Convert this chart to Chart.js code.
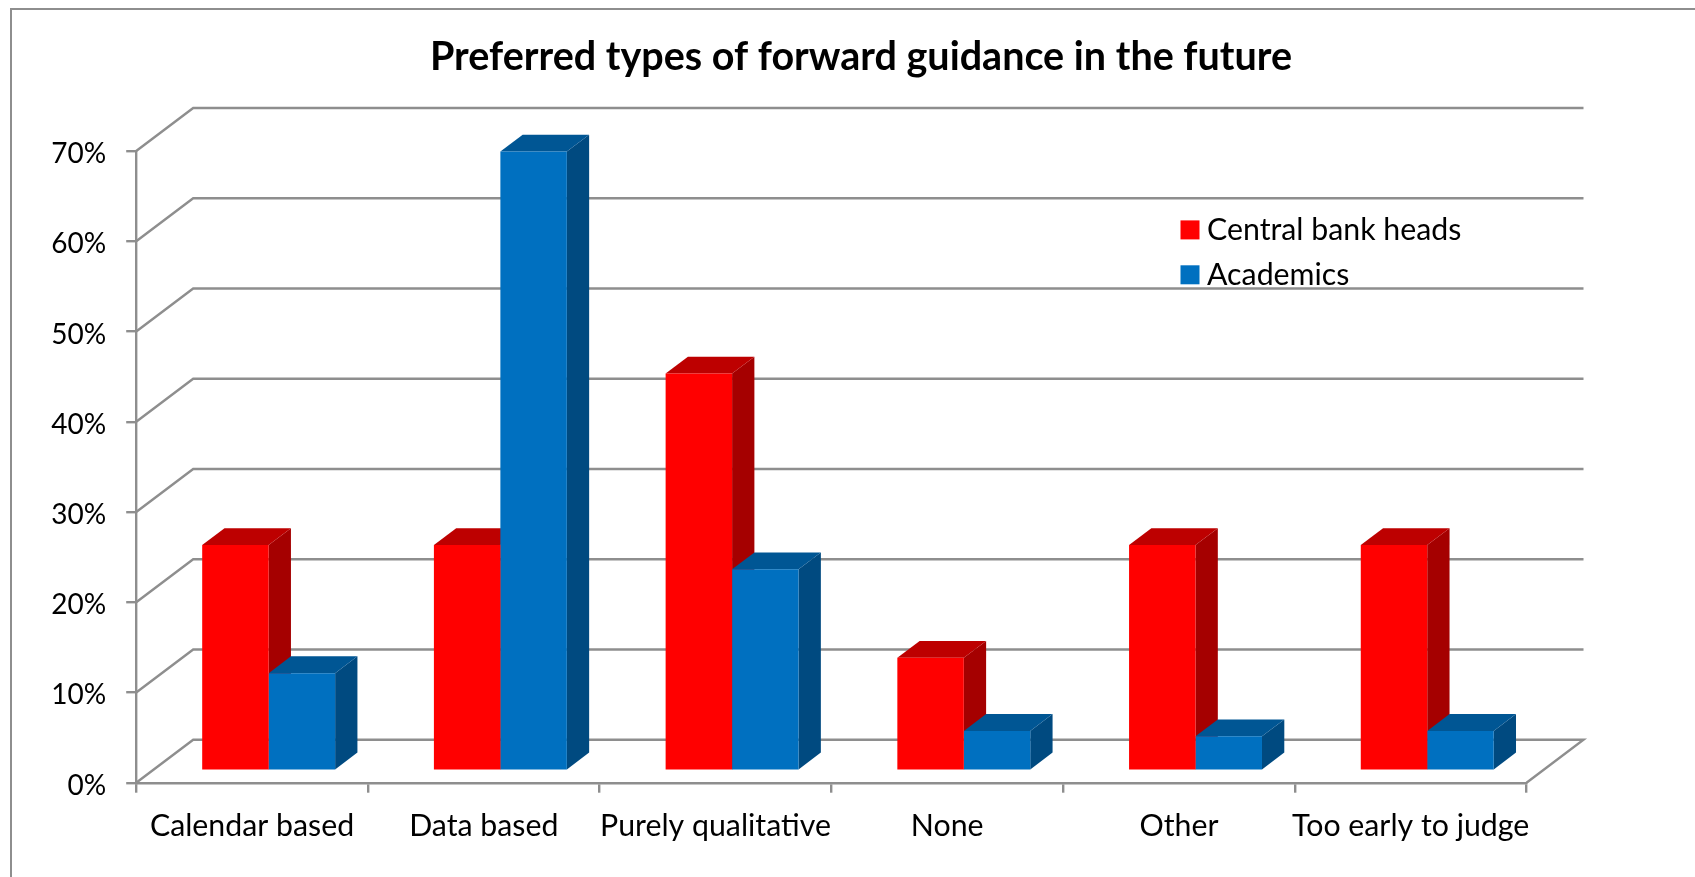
<!DOCTYPE html>
<html>
<head>
<meta charset="utf-8">
<title>Preferred types of forward guidance in the future</title>
<script src="https://cdn.jsdelivr.net/npm/chart.js@4"></script>
<style>
    html, body { margin: 0; padding: 0; background: #fff; }
    canvas { display: block; }
</style>
</head>
<body>
<canvas id="grafico" width="1695" height="877"></canvas>
<script>
const titolo = "Preferred types of forward guidance in the future";
const categorie = ["Calendar based", "Data based", "Purely qualitative", "None", "Other", "Too early to judge"];
const nomiSerie = ["Central bank heads", "Academics"];
const centralBankHeads = [25, 25, 44, 12.5, 25, 25];
const academics = [10.8, 68.6, 22.3, 4.4, 3.8, 4.4];
const yMin = 0;
const yMax = 70;
const yStep = 10;

// Aspetto generale
const custom = {
    font: "Lato",
    axisColor: "#8e8e8e",
    axisWidth: 2.4,
    textColor: "#000000",
    // profondita della scatola (pavimento e pareti)
    wallDx: 57,
    wallDy: -43,
    // le barre partono un po' dentro il pavimento
    barDx: 16.6,
    barDy: -12.1,
    // profondita della singola barra
    depthDx: 22.3,
    depthDy: -16.8,
    red: { front: "#ff0000", top: "#bd0000", side: "#a50000" },
    blue: { front: "#0070c0", top: "#005694", side: "#004a80" }
};

function parallelogramma(ctx, x, y, w, h, dx, dy, colore) {
    // w e h sono i lati, dx dy la profondita
    ctx.fillStyle = colore;
    ctx.beginPath();
    ctx.moveTo(x, y);
    ctx.lineTo(x + dx, y + dy);
    ctx.lineTo(x + dx + w, y + dy + h);
    ctx.lineTo(x + w, y + h);
    ctx.closePath();
    ctx.fill();
}

// Cornice, griglia sulle pareti e facce laterali delle barre
const scatola3d = {
    id: "scatola3d",
    afterLayout(chart) {
        // il titolo non e centrato sul canvas
        const t = chart.titleBlock;
        t.left = 861 - t.width / 2;
        t.right = t.left + t.width;
    },
    beforeDraw(chart) {
        const ctx = chart.ctx;
        ctx.save();
        ctx.strokeStyle = custom.axisColor;
        ctx.lineWidth = 2;
        ctx.beginPath();
        ctx.moveTo(11, chart.height);
        ctx.lineTo(11, 9);
        ctx.lineTo(chart.width, 9);
        ctx.stroke();
        ctx.restore();
    },
    beforeDatasetsDraw(chart) {
        const ctx = chart.ctx;
        const xs = chart.scales.x;
        const ys = chart.scales.y;
        const left = xs.left;
        const right = xs.right;

        ctx.save();
        ctx.strokeStyle = custom.axisColor;
        ctx.lineWidth = custom.axisWidth;
        ctx.lineJoin = "miter";
        ys.ticks.forEach(tick => {
            const y = ys.getPixelForValue(tick.value);
            ctx.beginPath();
            ctx.moveTo(left, y);
            ctx.lineTo(left + custom.wallDx, y + custom.wallDy);
            ctx.lineTo(right + custom.wallDx, y + custom.wallDy);
            if (tick.value === yMin) {
                // bordo destro del pavimento
                ctx.lineTo(right, y);
            }
            ctx.stroke();
        });
        ctx.restore();

        // Le barre vengono spostate dentro il pavimento fino a afterDatasetsDraw
        ctx.save();
        ctx.translate(custom.barDx, custom.barDy);

        [custom.red, custom.blue].forEach((colori, i) => {
            chart.getDatasetMeta(i).data.forEach(bar => {
                const x0 = bar.x - bar.width / 2;
                const x1 = bar.x + bar.width / 2;
                parallelogramma(ctx, x1, bar.y, 0, bar.base - bar.y, custom.depthDx, custom.depthDy, colori.side);
                parallelogramma(ctx, x0, bar.y, bar.width, 0, custom.depthDx, custom.depthDy, colori.top);
            });
        });
    },
    afterDatasetsDraw(chart) {
        chart.ctx.restore();
    },
    afterDraw(chart) {
        // Legenda dentro il grafico
        const ctx = chart.ctx;
        const righe = [229.9, 274.8];
        ctx.save();
        ctx.font = "30.3px " + custom.font;
        ctx.textBaseline = "middle";
        chart.data.datasets.forEach((d, i) => {
            ctx.fillStyle = d.backgroundColor;
            ctx.fillRect(1180.5, righe[i] - 9.5, 19, 19);
            ctx.fillStyle = custom.textColor;
            ctx.fillText(d.label, 1207, righe[i]);
        });
        ctx.restore();
    }
};

new Chart(document.getElementById("grafico").getContext("2d"), {
    type: "bar",
    data: {
        labels: categorie,
        datasets: [
            { label: nomiSerie[0], data: centralBankHeads, backgroundColor: custom.red.front },
            { label: nomiSerie[1], data: academics, backgroundColor: custom.blue.front }
        ]
    },
    options: {
        responsive: false,
        animation: false,
        layout: { padding: { left: 0, right: 168.5, top: 0, bottom: 0 } },
        datasets: { bar: { barPercentage: 1, categoryPercentage: 0.5737, clip: false } },
        plugins: {
            legend: { display: false },
            tooltip: { enabled: false },
            title: {
                display: true,
                text: titolo,
                color: custom.textColor,
                font: { family: custom.font, size: 39.5, weight: "bold", lineHeight: 1.2 },
                padding: { top: 33.3, bottom: 70.3 }
            }
        },
        scales: {
            x: {
                afterFit: s => { s.height = 94.3; },
                grid: { drawOnChartArea: false, drawTicks: true, tickLength: 10, color: custom.axisColor, lineWidth: custom.axisWidth },
                border: { color: custom.axisColor, width: custom.axisWidth },
                ticks: {
                    color: custom.textColor,
                    padding: 15,
                    maxRotation: 0,
                    autoSkip: false,
                    font: { family: custom.font, size: 30.3 }
                }
            },
            y: {
                min: yMin,
                max: yMax,
                afterFit: s => { s.width = 136.2; },
                grid: { drawOnChartArea: false, drawTicks: true, tickLength: 10, color: custom.axisColor, lineWidth: custom.axisWidth },
                border: { color: custom.axisColor, width: custom.axisWidth },
                ticks: {
                    stepSize: yStep,
                    color: custom.textColor,
                    padding: 20,
                    labelOffset: 3,
                    font: { family: custom.font, size: 28 },
                    callback: v => v + "%"
                }
            }
        }
    },
    plugins: [scatola3d]
});
</script>
</body>
</html>
